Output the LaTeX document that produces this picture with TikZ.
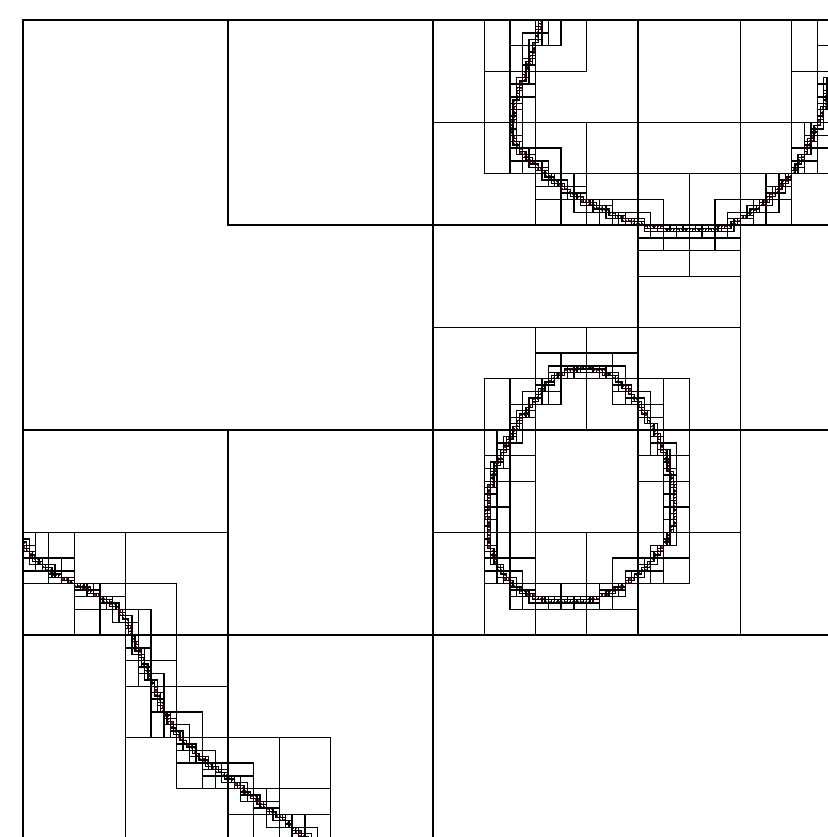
\documentclass[tikz,border=0pt]{standalone}
\usetikzlibrary{calc}

\definecolor{probe}{RGB}{150,20,90}

% sparse quadtree: a cell is kept when the curve runs through it
\newcount\qtL \newcount\qtS
\newcount\qtI \newcount\qtJ
\newcount\qtPx \newcount\qtPy
\newcount\qtAx \newcount\qtAy \newcount\qtDx \newcount\qtDy
\newcount\qtK \newcount\qtN
\def\qtdepth{8}
\def\qtnone{none}

% px -> tree units (root is 4096 units wide)
\def\qtu#1{\numexpr(#1-23)*4096/820\relax}
\def\qtv#1{\numexpr(#1-20)*4096/820\relax}

\def\qtcell{%
  \edef\qtx{\the\numexpr\qtI*\qtS\relax}%
  \edef\qty{\the\numexpr\qtJ*\qtS\relax}%
  \edef\qts{\the\qtS}%
  \draw[cell] (\qtx,\qty) rectangle ++(\qts,\qts);
  \ifnum\qtL=\qtdepth\relax
    \fill[probe] (\qtx+5,\qty+5) rectangle ++(6,6);
  \fi}

\def\qtmark{\qtS=4096 \qtL=0 \qtlevel}
\def\qtlevel{%
  \advance\qtL by 1 \divide\qtS by 2
  \qtI=\qtPx \divide\qtI by \qtS
  \qtJ=\qtPy \divide\qtJ by \qtS
  \expandafter\ifx\csname qt@\the\qtL @\the\qtI @\the\qtJ\endcsname\relax
    \expandafter\gdef\csname qt@\the\qtL @\the\qtI @\the\qtJ\endcsname{}%
    \qtcell
  \fi
  \ifnum\qtL<\qtdepth\relax \expandafter\qtlevel\fi}

\def\qtseg#1#2#3#4{%
  \qtAx=\qtu{#1} \qtAy=\qtv{#2}
  \qtDx=\numexpr\qtu{#3}-\qtAx\relax \qtDy=\numexpr\qtv{#4}-\qtAy\relax
  \qtN=\ifnum\qtDx<0 -\fi\qtDx
  \qtK=\ifnum\qtDy<0 -\fi\qtDy
  \ifnum\qtK>\qtN \qtN=\qtK \fi
  \divide\qtN by 8 \advance\qtN by 1
  \qtK=0 \qtstep}
\def\qtstep{%
  \qtPx=\numexpr\qtAx+\qtDx*\qtK/\qtN\relax
  \qtPy=\numexpr\qtAy+\qtDy*\qtK/\qtN\relax
  \ifnum\qtPx<0 \qtPx=0 \fi \ifnum\qtPx>4095 \qtPx=4095 \fi
  \ifnum\qtPy<0 \qtPy=0 \fi \ifnum\qtPy>4095 \qtPy=4095 \fi
  \qtmark
  \ifnum\qtK<\qtN \advance\qtK by 1 \expandafter\qtstep\fi}

\newcommand\qtcurve[1]{%
  \foreach \x/\y [remember=\x as \lx (initially none),
                  remember=\y as \ly (initially none)] in {#1}{%
    \ifx\lx\qtnone\else\qtseg{\lx}{\ly}{\x}{\y}\fi}}

\begin{document}
\begin{tikzpicture}[x=0.5pt,y=-0.5pt,
    cell/.style={draw=black, line width=0.68pt},
    probe/.style={fill=probe}]
  \fill[white] (0,0) rectangle (828,837);
  \useasboundingbox (0,0) rectangle (828,837);
  \clip (0,0) rectangle (828,837);

  \begin{scope}[shift={(23,20)}, x=0.1000977pt, y=-0.1000977pt]
    % root
    \qtL=0 \qtS=4096 \qtI=0 \qtJ=0 \qtcell
    % empty cell next to the upper curve
    \qtL=2 \qtS=1024 \qtI=1 \qtJ=0 \qtcell

    % upper curve
    \qtcurve{541/20, 537/36, 533/53, 526/70, 520/87, 515/104, 513/120,
      512/132, 515/143, 522/152, 537/167, 550/177, 563/187, 575/195,
      587/202, 603/210, 620/217, 636/223, 653/227, 670/229, 690/229,
      710/229, 727/227, 740/219, 753/212, 767/200, 783/185, 793/171,
      803/157, 810/143, 817/127, 823/112, 827/93, 831/75, 833/55,
      835/35, 836/20}

    % egg
    \qtcurve{585/368, 600/370, 614/377, 626/388, 637/401, 647/416,
      656/433, 663/450, 669/467, 673/482, 676/497, 676/513, 673/527,
      666/541, 656/556, 645/568, 634/578, 620/587, 606/594, 592/599,
      575/602, 555/602, 537/598, 520/590, 507/579, 497/565, 491/550,
      488/532, 487/512, 489/493, 493/475, 498/460, 505/447, 513/433,
      520/420, 528/409, 537/397, 545/386, 556/376, 570/370, 585/368}

    % lower curve
    \qtcurve{23/544, 27/550, 33/557, 40/563, 50/572, 60/577, 73/583,
      87/590, 100/597, 110/602, 120/610, 126/620, 131/632, 137/647,
      143/661, 150/677, 157/693, 163/709, 170/722, 177/733, 187/744,
      200/757, 213/767, 230/779, 245/791, 260/803, 277/815, 290/825,
      300/834, 306/839}
  \end{scope}
\end{tikzpicture}
\end{document}
